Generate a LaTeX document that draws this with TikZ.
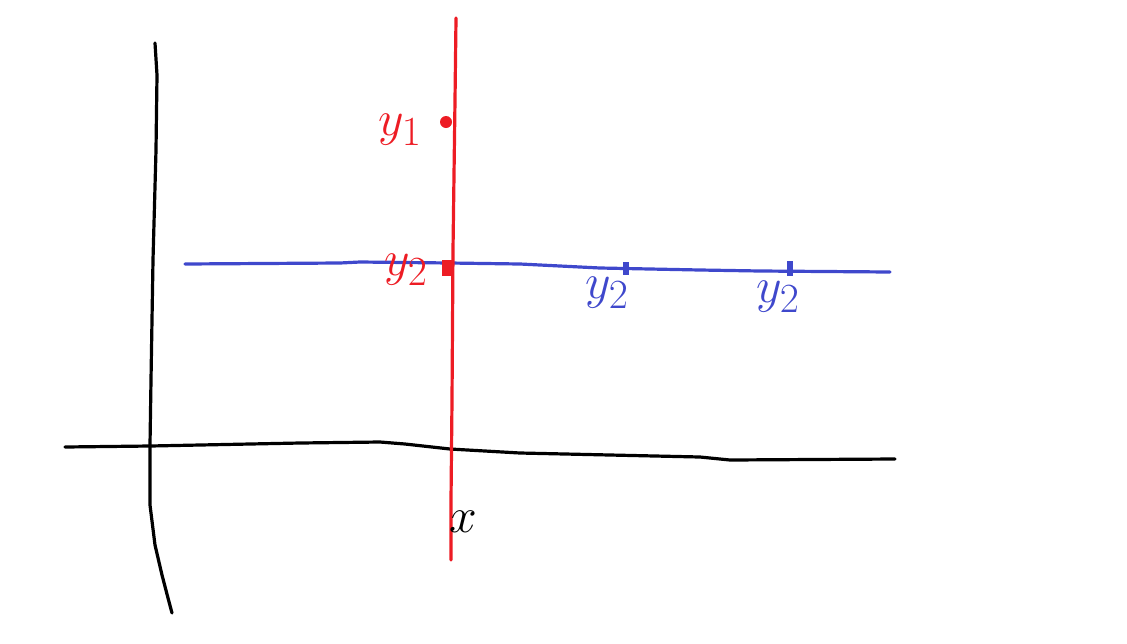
\documentclass[tikz,border=0pt]{standalone}
\definecolor{pred}{RGB}{237,28,36}
\definecolor{pblue}{RGB}{63,72,204}
\tikzset{
  stroke/.style={line width=1.6pt, line cap=round, line join=round},
  lbl/.style={font=\fontsize{28}{28}\selectfont, inner sep=0pt},
}
\begin{document}
\begin{tikzpicture}[x=0.5pt,y=-0.5pt]
\useasboundingbox (0,0) rectangle (1127,643);
% black axes
\draw[stroke,black] (155,43) -- (157,75) -- (156,150) -- (153,260) -- (151,380) -- (150,445) -- (150,505) -- (155,545) -- (162,575) -- (168,598) -- (172,613);
\draw[stroke,black] (65,447) -- (150,446) -- (300,443) -- (380,442) -- (405,444) -- (450,449) -- (520,453) -- (700,457) -- (730,460) -- (895,459);
% blue line
\draw[stroke,pblue] (185,264) -- (340,263) -- (360,262) -- (450,263) -- (520,264) -- (600,268) -- (700,270) -- (760,271) -- (890,272);
\fill[pblue] (623,262) rectangle (629,275);
\fill[pblue] (787,261) rectangle (793,276);
% red line
\draw[stroke,pred] (456,18) -- (455,100) -- (453,250) -- (452,400) -- (451,500) -- (451,560);
\fill[pred] (446,122) ellipse (6 and 6);
\fill[pred] (442,260) rectangle (454,276);
% labels
\node[lbl,text=pred] (y1) at (400,130) {$y_1$};
\node[lbl,text=pred] (y2r) at (406,270) {$y_2$};
\node[lbl,text=pblue] (y2a) at (607,293) {$y_2$};
\node[lbl,text=pblue] (y2b) at (778,297) {$y_2$};
\node[lbl,text=black] (xl) at (463,522) {$x$};
\end{tikzpicture}
\end{document}
